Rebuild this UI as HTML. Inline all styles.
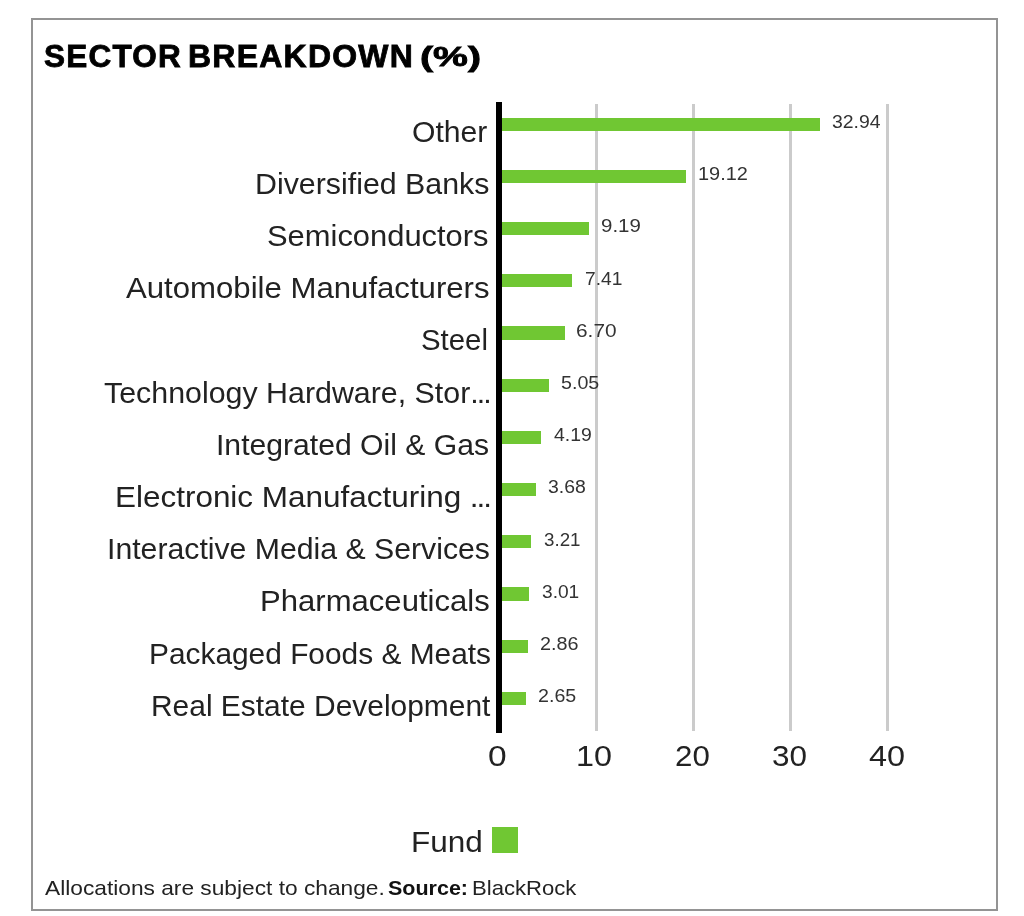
<!DOCTYPE html><html><head><meta charset="utf-8"><style>
html,body{margin:0;padding:0;background:#fff;}
body{width:1024px;height:916px;position:relative;overflow:hidden;filter:blur(0.4px);font-family:"Liberation Sans",sans-serif;}
.a{position:absolute;white-space:nowrap;line-height:1;transform-origin:0 50%;color:#222;}
.bar{position:absolute;background:#70c733;}
.grid{position:absolute;background:#cbcbcb;}
</style></head><body>
<div style="position:absolute;left:31px;top:17.7px;width:962.5px;height:889px;border:2px solid #949494;"></div>
<div class="grid" style="left:594.70px;top:104px;width:3px;height:627px;"></div>
<div class="grid" style="left:692.00px;top:104px;width:3px;height:627px;"></div>
<div class="grid" style="left:789.00px;top:104px;width:3px;height:627px;"></div>
<div class="grid" style="left:886.30px;top:104px;width:3px;height:627px;"></div>
<div class="bar" style="left:500px;top:117.60px;width:319.55px;height:13.2px;"></div>
<div class="a" style="left:832.22px;top:112.96px;font-size:18px;color:#333;transform:scaleX(1.0795);">32.94</div>
<div class="bar" style="left:500px;top:169.80px;width:185.61px;height:13.2px;"></div>
<div class="a" style="left:698.19px;top:165.16px;font-size:18px;color:#333;transform:scaleX(1.1070);">19.12</div>
<div class="bar" style="left:500px;top:222.00px;width:89.37px;height:13.2px;"></div>
<div class="a" style="left:600.86px;top:217.36px;font-size:18px;color:#333;transform:scaleX(1.1364);">9.19</div>
<div class="bar" style="left:500px;top:274.20px;width:72.12px;height:13.2px;"></div>
<div class="a" style="left:584.53px;top:269.56px;font-size:18px;color:#333;transform:scaleX(1.0667);">7.41</div>
<div class="bar" style="left:500px;top:326.40px;width:65.24px;height:13.2px;"></div>
<div class="a" style="left:576.24px;top:321.76px;font-size:18px;color:#333;transform:scaleX(1.1576);">6.70</div>
<div class="bar" style="left:500px;top:378.60px;width:49.24px;height:13.2px;"></div>
<div class="a" style="left:561.11px;top:373.96px;font-size:18px;color:#333;transform:scaleX(1.0909);">5.05</div>
<div class="bar" style="left:500px;top:430.80px;width:40.91px;height:13.2px;"></div>
<div class="a" style="left:553.50px;top:426.16px;font-size:18px;color:#333;transform:scaleX(1.0794);">4.19</div>
<div class="bar" style="left:500px;top:483.00px;width:35.97px;height:13.2px;"></div>
<div class="a" style="left:548.02px;top:478.36px;font-size:18px;color:#333;transform:scaleX(1.0788);">3.68</div>
<div class="bar" style="left:500px;top:535.20px;width:31.41px;height:13.2px;"></div>
<div class="a" style="left:543.96px;top:530.56px;font-size:18px;color:#333;transform:scaleX(1.0424);">3.21</div>
<div class="bar" style="left:500px;top:587.40px;width:29.47px;height:13.2px;"></div>
<div class="a" style="left:541.74px;top:582.76px;font-size:18px;color:#333;transform:scaleX(1.0636);">3.01</div>
<div class="bar" style="left:500px;top:639.60px;width:28.02px;height:13.2px;"></div>
<div class="a" style="left:540.10px;top:634.96px;font-size:18px;color:#333;transform:scaleX(1.1000);">2.86</div>
<div class="bar" style="left:500px;top:691.80px;width:25.98px;height:13.2px;"></div>
<div class="a" style="left:537.81px;top:687.16px;font-size:18px;color:#333;transform:scaleX(1.0909);">2.65</div>
<div style="position:absolute;left:496px;top:101.7px;width:6px;height:631.6px;background:#000;"></div>
<div class="bar" style="left:492.3px;top:827px;width:25.8px;height:25.7px;"></div>
<div class="a" style="left:411.86px;top:117.55px;font-size:29px;color:#222;transform:scaleX(1.0394);">Other</div>
<div class="a" style="left:254.51px;top:169.75px;font-size:29px;color:#222;transform:scaleX(1.0462);">Diversified Banks</div>
<div class="a" style="left:267.23px;top:221.95px;font-size:29px;color:#222;transform:scaleX(1.0655);">Semiconductors</div>
<div class="a" style="left:125.90px;top:274.15px;font-size:29px;color:#222;transform:scaleX(1.0740);">Automobile Manufacturers</div>
<div class="a" style="left:421.19px;top:326.35px;font-size:29px;color:#222;transform:scaleX(1.0127);">Steel</div>
<div class="a" style="left:104.15px;top:378.55px;font-size:29px;color:#222;transform:scaleX(1.0471);">Technology Hardware, Stor<span style="letter-spacing:-1.9px">..</span>.</div>
<div class="a" style="left:215.88px;top:430.75px;font-size:29px;color:#222;transform:scaleX(1.0394);">Integrated Oil &amp; Gas</div>
<div class="a" style="left:115.33px;top:482.95px;font-size:29px;color:#222;transform:scaleX(1.0845);">Electronic Manufacturing <span style="letter-spacing:-1.9px">..</span>.</div>
<div class="a" style="left:107.07px;top:535.15px;font-size:29px;color:#222;transform:scaleX(1.0420);">Interactive Media &amp; Services</div>
<div class="a" style="left:259.96px;top:587.35px;font-size:29px;color:#222;transform:scaleX(1.0716);">Pharmaceuticals</div>
<div class="a" style="left:148.64px;top:639.55px;font-size:29px;color:#222;transform:scaleX(1.0298);">Packaged Foods &amp; Meats</div>
<div class="a" style="left:150.64px;top:691.75px;font-size:29px;color:#222;transform:scaleX(1.0321);">Real Estate Development</div>
<div class="a" style="left:43.98px;top:41.93px;font-size:30.8px;font-weight:bold;color:#000;-webkit-text-stroke:0.8px #000;transform:scaleX(1.0220);"><span style="letter-spacing:1.2px">SECTOR</span></div>
<div class="a" style="left:188.42px;top:41.93px;font-size:30.8px;font-weight:bold;color:#000;-webkit-text-stroke:0.8px #000;transform:scaleX(1.0380);"><span style="letter-spacing:1.2px">BREAKDOWN</span></div>
<div class="a" style="left:419.59px;top:42.77px;font-size:27.8px;font-weight:bold;color:#000;-webkit-text-stroke:0.8px #000;transform:scaleX(1.4098);">(%)</div>
<div class="a" style="left:45.00px;top:877.59px;font-size:20.8px;color:#222;transform:scaleX(1.0926);">Allocations are subject to change.</div>
<div class="a" style="left:388.17px;top:877.59px;font-size:20.8px;font-weight:bold;color:#111;transform:scaleX(1.0333);">Source:</div>
<div class="a" style="left:472.07px;top:877.59px;font-size:20.8px;color:#222;transform:scaleX(1.0625);">BlackRock</div>
<div class="a" style="left:410.53px;top:827.95px;font-size:29px;color:#222;transform:scaleX(1.0855);">Fund</div>
<div class="a" style="left:487.73px;top:741.79px;font-size:28.6px;color:#222;transform:scaleX(1.1714);">0</div>
<div class="a" style="left:576.14px;top:741.79px;font-size:28.6px;color:#222;transform:scaleX(1.1310);">10</div>
<div class="a" style="left:674.61px;top:741.79px;font-size:28.6px;color:#222;transform:scaleX(1.0933);">20</div>
<div class="a" style="left:771.90px;top:741.79px;font-size:28.6px;color:#222;transform:scaleX(1.1000);">30</div>
<div class="a" style="left:868.87px;top:741.79px;font-size:28.6px;color:#222;transform:scaleX(1.1333);">40</div>
</body></html>
